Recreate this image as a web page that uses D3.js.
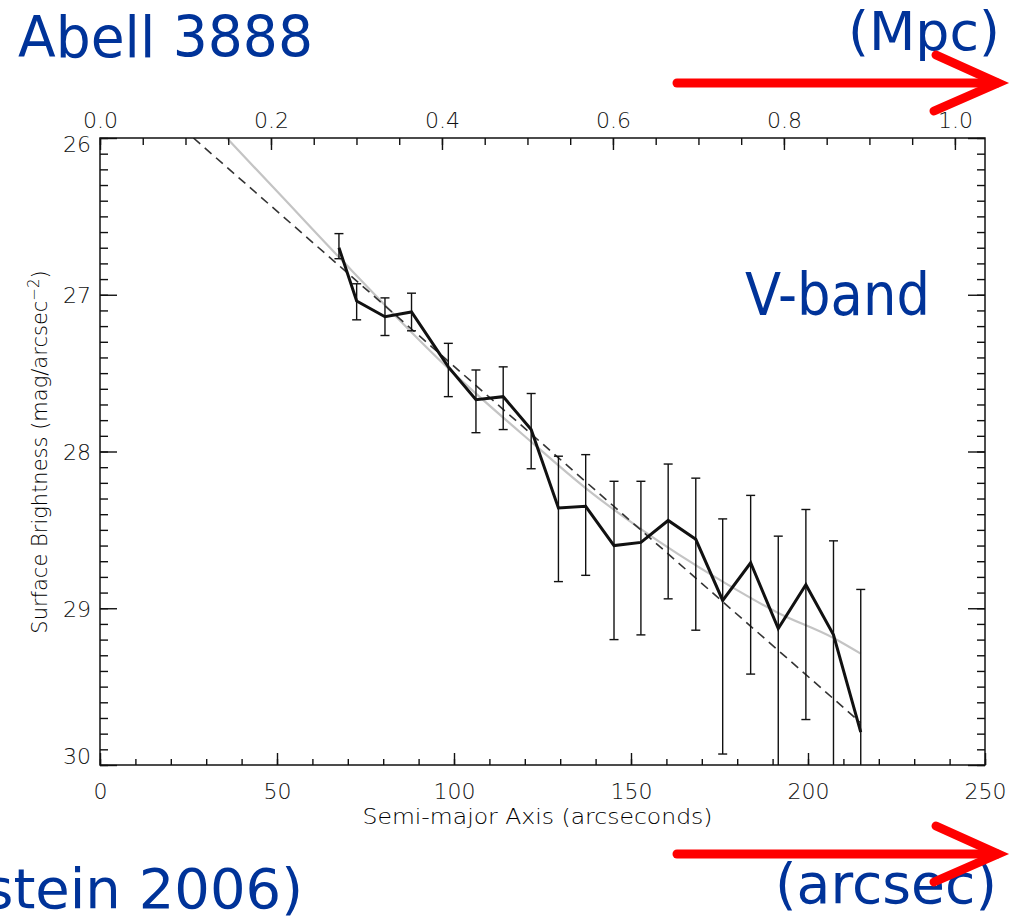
<!DOCTYPE html>
<html>
<head>
<meta charset="utf-8">
<script src="https://cdn.jsdelivr.net/npm/d3@7"></script>
<style>
    body { margin: 0; background: #fff; }
    .tick text { font-family: "DejaVu Sans", sans-serif; font-weight: 200; fill: #111; }
    .note { font-family: "DejaVu Sans", sans-serif; fill: #003399; }
</style>
</head>
<body>
<div id="chart"></div>
<script>
// 半长轴 (arcsec) 和 面亮度 (mag/arcsec^2)
var radius = [67.5, 72.5, 80.5, 88.0, 98.4, 106.2, 113.9, 121.8, 129.5, 137.2,
              145.2, 152.8, 160.5, 168.3, 175.9, 183.8, 191.6, 199.4, 207.2, 214.9]
var sb = [26.70, 27.04, 27.14, 27.11, 27.46, 27.67, 27.65, 27.86, 28.36, 28.35,
          28.60, 28.58, 28.44, 28.56, 28.95, 28.71, 29.13, 28.85, 29.17, 29.79]
// 误差棒上下端 (亮端 / 暗端)
var sbBright = [26.61, 26.93, 27.02, 26.99, 27.31, 27.48, 27.46, 27.63, 28.03, 28.02,
                28.19, 28.19, 28.08, 28.17, 28.43, 28.28, 28.54, 28.37, 28.57, 28.88]
var sbFaint = [26.77, 27.16, 27.26, 27.23, 27.65, 27.88, 27.86, 28.11, 28.83, 28.79,
               29.20, 29.17, 28.94, 29.14, 29.93, 29.42, 30.40, 29.71, 30.50, 31.50]

// 灰色拟合曲线
var curveX = [35.8, 50.0, 67.5, 98.4, 122.4, 137.0, 152.5, 175.9, 191.6, 207.2, 214.9]
var curveY = [26.00, 26.34, 26.76, 27.47, 27.95, 28.23, 28.49, 28.83, 29.03, 29.19, 29.29]
// 虚线 (指数拟合)
var dashX = [26.4, 214.9]
var dashY = [26.00, 29.73]

var xTicks = [0, 50, 100, 150, 200, 250]
var yTicks = [26, 27, 28, 29, 30]
var mpcTicks = [0.0, 0.2, 0.4, 0.6, 0.8, 1.0]
var arcsecPerMpc = 241.5

var W = 1015, H = 921
// 注意 top 是 window 的只读属性，不能拿来当变量名
var pL = 100, pR = 985, pT = 138, pB = 765

var svg = d3.select("#chart")
    .append("svg")
    .attr("width", W)
    .attr("height", H)

var x = d3.scaleLinear().domain([0, 250]).range([pL, pR])
var y = d3.scaleLinear().domain([26, 30]).range([pT, pB])
var xMpc = d3.scaleLinear().domain([0, 250 / arcsecPerMpc]).range([pL, pR])

svg.append("clipPath").attr("id", "plotclip")
    .append("rect")
    .attr("x", pL).attr("y", pT)
    .attr("width", pR - pL).attr("height", pB - pT)

var plot = svg.append("g").attr("clip-path", "url(#plotclip)")

// 灰色曲线
var fit = curveX.map(function (d, i) { return { x: d, y: curveY[i] } })
plot.append("path")
    .datum(fit)
    .attr("d", d3.line().x(d => x(d.x)).y(d => y(d.y)).curve(d3.curveMonotoneX))
    .attr("fill", "none")
    .attr("stroke", "#c4c4c4")
    .attr("stroke-width", 2.2)

// 虚线
var dash = dashX.map(function (d, i) { return { x: d, y: dashY[i] } })
plot.append("path")
    .datum(dash)
    .attr("d", d3.line().x(d => x(d.x)).y(d => y(d.y)))
    .attr("fill", "none")
    .attr("stroke", "#333")
    .attr("stroke-width", 1.6)
    .attr("stroke-dasharray", "9,6")

var pts = radius.map(function (d, i) {
    return { x: d, y: sb[i], lo: sbBright[i], hi: sbFaint[i] }
})

// 误差棒
var eb = plot.selectAll(".eb").data(pts).enter().append("g").attr("class", "eb")
    .attr("stroke", "#111").attr("stroke-width", 1.4)
eb.append("line")
    .attr("x1", d => x(d.x)).attr("x2", d => x(d.x))
    .attr("y1", d => y(d.lo)).attr("y2", d => y(d.hi))
eb.append("line")
    .attr("x1", d => x(d.x) - 4.5).attr("x2", d => x(d.x) + 4.5)
    .attr("y1", d => y(d.lo)).attr("y2", d => y(d.lo))
eb.append("line")
    .attr("x1", d => x(d.x) - 4.5).attr("x2", d => x(d.x) + 4.5)
    .attr("y1", d => y(d.hi)).attr("y2", d => y(d.hi))

// 数据折线
plot.append("path")
    .datum(pts)
    .attr("d", d3.line().x(d => x(d.x)).y(d => y(d.y)))
    .attr("fill", "none")
    .attr("stroke", "#111")
    .attr("stroke-width", 3)
    .attr("stroke-linejoin", "miter")

// 坐标轴 — 刻度朝内
function styleAxis(g) {
    g.select(".domain").remove()
    g.selectAll(".tick line").attr("stroke", "#111").attr("stroke-width", 1.4)
    g.selectAll(".tick text").attr("font-size", 22)
}
var xMinor = d3.range(0, 251, 10), yMinor = d3.range(26, 30.001, 0.1), mMinor = d3.range(0, 1.0001, 0.05)

svg.append("g").attr("transform", "translate(0," + pB + ")")
    .call(d3.axisBottom(x).tickValues(xMinor).tickSize(-6).tickFormat("")).call(styleAxis)
svg.append("g").attr("transform", "translate(0," + pB + ")")
    .call(d3.axisBottom(x).tickValues(xTicks).tickSize(-12).tickPadding(18).tickFormat(d3.format("d"))).call(styleAxis)

svg.append("g").attr("transform", "translate(0," + pT + ")")
    .call(d3.axisTop(xMpc).tickValues(mMinor).tickSize(-7).tickFormat("")).call(styleAxis)
svg.append("g").attr("transform", "translate(0," + pT + ")")
    .call(d3.axisTop(xMpc).tickValues(mpcTicks).tickSize(-12).tickPadding(10).tickFormat(d3.format(".1f"))).call(styleAxis)

svg.append("g").attr("transform", "translate(" + pL + ",0)")
    .call(d3.axisLeft(y).tickValues(yMinor).tickSize(-8).tickFormat("")).call(styleAxis)
var yAx = svg.append("g").attr("transform", "translate(" + pL + ",0)")
    .call(d3.axisLeft(y).tickValues(yTicks).tickSize(-17).tickPadding(9).tickFormat(d3.format("d"))).call(styleAxis)
// 两端标签往里收
yAx.selectAll(".tick text").attr("dy", function (d) {
    return d == 26 ? "0.6em" : d == 30 ? "-0.05em" : "0.36em"
})

svg.append("g").attr("transform", "translate(" + pR + ",0)")
    .call(d3.axisRight(y).tickValues(yMinor).tickSize(-8).tickFormat("")).call(styleAxis)
svg.append("g").attr("transform", "translate(" + pR + ",0)")
    .call(d3.axisRight(y).tickValues(yTicks).tickSize(-17).tickFormat("")).call(styleAxis)

svg.append("rect")
    .attr("x", pL).attr("y", pT)
    .attr("width", pR - pL).attr("height", pB - pT)
    .attr("fill", "none").attr("stroke", "#111").attr("stroke-width", 1.5)

// 轴标题
svg.append("text")
    .attr("x", (pL + pR) / 2 - 5).attr("y", 824)
    .attr("text-anchor", "middle")
    .attr("font-family", "DejaVu Sans").attr("font-weight", 200).attr("font-size", 21)
    .attr("textLength", 350).attr("lengthAdjust", "spacingAndGlyphs")
    .text("Semi-major Axis (arcseconds)")

var yt = svg.append("text")
    .attr("transform", "translate(47,452) rotate(-90)")
    .attr("text-anchor", "middle")
    .attr("font-family", "DejaVu Sans").attr("font-weight", 200).attr("font-size", 21)
yt.append("tspan").text("Surface Brightness (mag/arcsec")
yt.append("tspan").attr("dy", -8).attr("font-size", 15).text("−2")
yt.append("tspan").attr("dy", 8).text(")")

// 幻灯片上的蓝字
svg.append("text").attr("class", "note")
    .attr("x", 18).attr("y", 57).attr("font-size", 57)
    .attr("textLength", 295).attr("lengthAdjust", "spacingAndGlyphs")
    .text("Abell 3888")
svg.append("text").attr("class", "note")
    .attr("x", 848).attr("y", 50).attr("font-size", 54)
    .attr("textLength", 152).attr("lengthAdjust", "spacingAndGlyphs")
    .text("(Mpc)")
svg.append("text").attr("class", "note")
    .attr("x", 745).attr("y", 315).attr("font-size", 58)
    .attr("textLength", 185).attr("lengthAdjust", "spacingAndGlyphs")
    .text("V-band")
svg.append("text").attr("class", "note")
    .attr("x", 303).attr("y", 908).attr("font-size", 56)
    .attr("text-anchor", "end")
    .text("(Krick & Bernstein 2006)")
svg.append("text").attr("class", "note")
    .attr("x", 775).attr("y", 903).attr("font-size", 56)
    .attr("textLength", 222).attr("lengthAdjust", "spacingAndGlyphs")
    .text("(arcsec)")

// 红色箭头
function arrow(yy) {
    var g = svg.append("g")
        .attr("stroke", "#ff0000").attr("stroke-width", 9)
        .attr("stroke-linecap", "round").attr("fill", "none")
    g.append("path").attr("d", "M677," + yy + "L997," + yy)
    g.append("path").attr("d", "M936," + (yy - 28) + "L998," + yy + "L934," + (yy + 28))
}
arrow(83)
arrow(854)
</script>
</body>
</html>
